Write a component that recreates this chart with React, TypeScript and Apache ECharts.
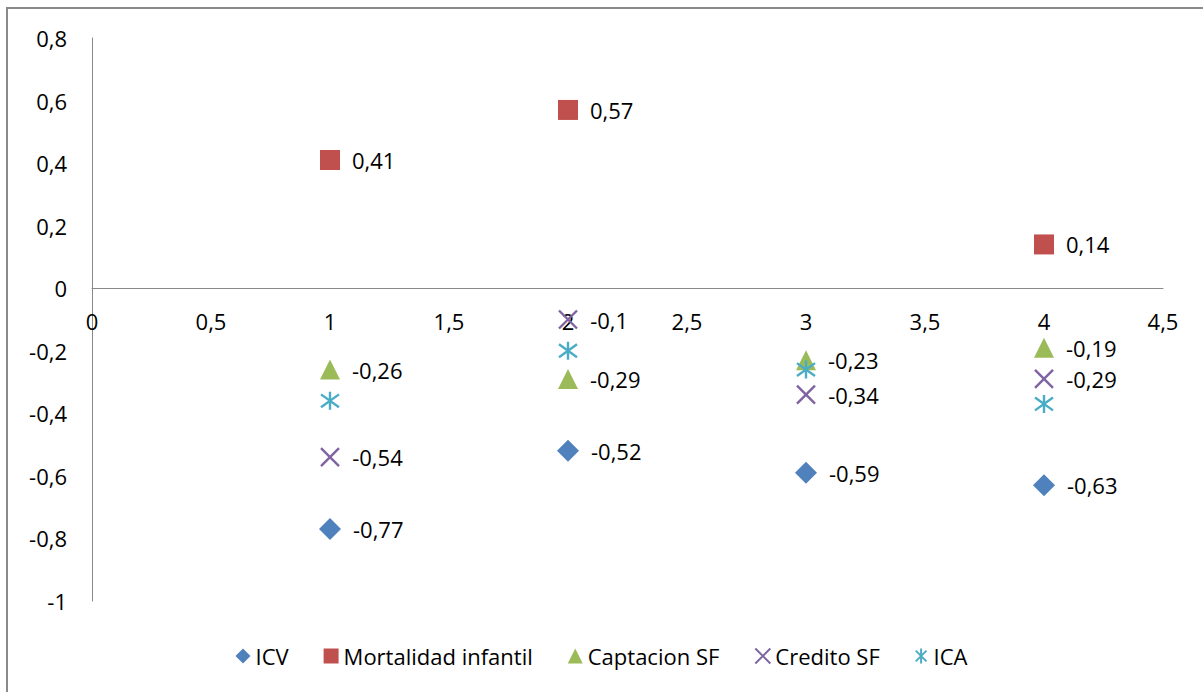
import React, { useEffect, useRef } from "react";
import * as echarts from "echarts";

const seriesNames = ["ICV", "Mortalidad infantil", "Captacion SF", "Credito SF", "ICA"];
const icv = [[1, -0.77], [2, -0.52], [3, -0.59], [4, -0.63]];
const mortalidad = [[1, 0.41], [2, 0.57], [4, 0.14]];
const captacion = [[1, -0.26], [2, -0.29], [3, -0.23], [4, -0.19]];
const credito = [[1, -0.54], [2, -0.1], [3, -0.34], [4, -0.29]];
const ica = [[1, -0.36], [2, -0.2], [3, -0.26], [4, -0.37]];
const colors = ["#4F81BD", "#C0504D", "#9BBB59", "#8064A2", "#4BACC6"];

const FONT = "'Open Sans', 'Noto Sans', sans-serif";
const comma = (v: number) => String(Number(v.toFixed(2))).replace(".", ",");

const GRID_TOP = 38;
const GRID_BOTTOM = 91;
const H = 692;
const Y_MIN = -1;
const Y_MAX = 0.8;

export default function App() {
  const ref = useRef<HTMLDivElement>(null);
  useEffect(() => {
    const chart = echarts.init(ref.current!, null, { renderer: "svg" });
    const plotH = H - GRID_TOP - GRID_BOTTOM;
    const zeroOffset = -((0 - Y_MIN) / (Y_MAX - Y_MIN)) * plotH;
    const label = {
      show: true,
      position: "right",
      distance: 12,
      color: "#000",
      fontSize: 22,
      fontFamily: FONT,
      formatter: (p: any) => comma(p.value[1]),
    };
    const mk = (i: number, data: number[][], symbol: string, size: number, stroke: boolean, showLabel: boolean) => ({
      name: seriesNames[i],
      type: "scatter",
      data,
      symbol,
      symbolSize: size,
      itemStyle: stroke
        ? { color: "rgba(0,0,0,0)", borderColor: colors[i], borderWidth: 2.4, opacity: 1 }
        : { color: colors[i], opacity: 1 },
      label: showLabel ? label : { show: false },
      emphasis: { disabled: true },
    });
    chart.setOption({
      animation: false,
      backgroundColor: "#fff",
      textStyle: { fontFamily: FONT },
      graphic: [
        {
          type: "rect",
          shape: { x: 7, y: 8, width: 1300, height: 800 },
          style: { fill: "none", stroke: "#8a8a8a", lineWidth: 2 },
          silent: true,
        },
      ],
      grid: { left: 92, top: GRID_TOP, right: 40, bottom: GRID_BOTTOM },
      xAxis: {
        type: "value",
        min: 0,
        max: 4.5,
        interval: 0.5,
        position: "bottom",
        offset: zeroOffset,
        splitLine: { show: false },
        axisTick: { show: false },
        axisLine: { onZero: false, lineStyle: { color: "#888", width: 1 } },
        axisLabel: { color: "#000", fontSize: 22, fontFamily: FONT, margin: 22, formatter: (v: number) => comma(v) },
      },
      yAxis: {
        type: "value",
        min: Y_MIN,
        max: Y_MAX,
        interval: 0.2,
        splitLine: { show: false },
        axisTick: { show: false },
        axisLine: { show: true, onZero: false, lineStyle: { color: "#888", width: 1 } },
        axisLabel: { color: "#000", fontSize: 22, fontFamily: FONT, margin: 25, formatter: (v: number) => comma(v) },
      },
      legend: {
        bottom: 20,
        left: "center",
        itemWidth: 15,
        itemHeight: 15,
        itemGap: 35,
        textStyle: { color: "#000", fontSize: 22, fontFamily: FONT },
        data: seriesNames,
      },
      series: [
        mk(0, icv, "diamond", 22, false, true),
        mk(1, mortalidad, "rect", 20, false, true),
        mk(2, captacion, "triangle", 20, false, true),
        mk(3, credito, "path://M0,0L10,10M10,0L0,10", 18, true, true),
        mk(4, ica, "path://M0,0L10,10M10,0L0,10M5,-2L5,12", 18, true, false),
      ],
    });
    return () => chart.dispose();
  }, []);
  return <div ref={ref} style={{ position: "absolute", left: 0, top: 0, width: 1203, height: 692 }} />;
}
